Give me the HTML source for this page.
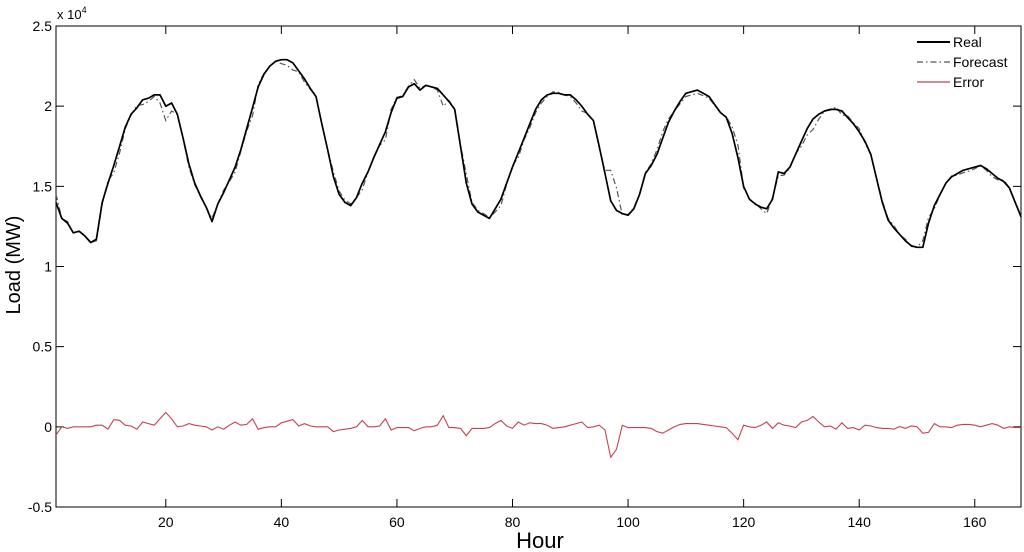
<!DOCTYPE html>
<html><head><meta charset="utf-8"><style>
body{margin:0;background:#fff;}
svg{display:block;font-family:"Liberation Sans",Arial,sans-serif;}
</style></head><body>
<svg id="chart" width="1024" height="552" viewBox="0 0 1024 552" xmlns="http://www.w3.org/2000/svg">
<rect x="0" y="0" width="1024" height="552" fill="#fff"/>
<g id="axes"></g>
<g id="series"></g>
<text x="57" y="19" font-size="13">x 10<tspan dy="-6" font-size="9">4</tspan></text>
<text transform="translate(20,265) rotate(-90)" text-anchor="middle" font-size="20">Load (MW)</text>
<text x="540" y="548" text-anchor="middle" font-size="22">Hour</text>
<g font-size="14">
<line x1="917" y1="42" x2="950" y2="42" stroke="#000" stroke-width="2"/>
<text x="953" y="47">Real</text>
<line x1="917" y1="62" x2="950" y2="62" stroke="#555" stroke-width="1.2" stroke-dasharray="6,3,1.5,3"/>
<text x="953" y="67">Forecast</text>
<line x1="917" y1="82" x2="950" y2="82" stroke="#c8404f" stroke-width="1.2"/>
<text x="953" y="87">Error</text>
</g>
</svg>
<script>
const realValues=[1.40,1.30,1.27,1.21,1.22,1.19,1.15,1.17,1.40,1.52,1.63,1.75,1.87,1.95,1.99,2.04,2.05,2.07,2.07,2.00,2.02,1.95,1.80,1.64,1.52,1.44,1.37,1.28,1.39,1.46,1.54,1.62,1.73,1.86,1.99,2.12,2.20,2.25,2.28,2.29,2.29,2.27,2.22,2.17,2.11,2.06,1.89,1.73,1.56,1.45,1.40,1.38,1.43,1.52,1.59,1.68,1.76,1.84,1.96,2.05,2.06,2.12,2.14,2.10,2.13,2.12,2.11,2.07,2.03,1.98,1.75,1.52,1.39,1.34,1.32,1.30,1.36,1.42,1.52,1.62,1.71,1.80,1.89,1.98,2.04,2.07,2.08,2.08,2.07,2.07,2.04,2.00,1.95,1.91,1.75,1.58,1.41,1.35,1.33,1.32,1.36,1.45,1.58,1.63,1.70,1.80,1.90,1.97,2.03,2.08,2.09,2.10,2.08,2.06,2.01,1.96,1.93,1.83,1.68,1.50,1.42,1.39,1.37,1.36,1.42,1.59,1.58,1.62,1.70,1.78,1.86,1.92,1.95,1.97,1.98,1.98,1.97,1.93,1.89,1.84,1.78,1.70,1.55,1.40,1.29,1.24,1.20,1.16,1.13,1.12,1.12,1.27,1.38,1.45,1.52,1.56,1.58,1.60,1.61,1.62,1.63,1.61,1.58,1.55,1.53,1.49,1.40,1.31];
const errorValues=[-0.05,0,-0.01,0,0,0,0,0.01,0.01,-0.015,0.045,0.04,0.01,0.005,-0.015,0.03,0.02,0.01,0.05,0.09,0.05,0,0.005,0.02,0.01,0.005,0,-0.02,0,-0.015,0.01,0.03,0.01,0.015,0.05,-0.015,-0.005,0,0,0.025,0.035,0.045,0.005,0.02,0.005,0,0,0,-0.03,-0.02,-0.015,-0.01,0,0.04,0,0,0.005,0.05,-0.02,-0.005,-0.005,-0.005,-0.025,-0.01,0,0,0.01,0.07,-0.005,-0.005,-0.01,-0.055,-0.01,-0.01,-0.01,-0.005,0.02,0.04,0.005,-0.01,0.03,0.01,0.025,0.02,0.02,0.01,-0.01,-0.005,0,0.01,0.02,0.03,-0.005,0,0.01,-0.02,-0.19,-0.14,0.01,-0.005,-0.005,-0.005,-0.005,-0.01,-0.03,-0.04,-0.02,0,0.015,0.02,0.02,0.02,0.015,0.01,0.005,0,-0.005,-0.04,-0.08,0.01,0,-0.005,0.01,0.03,-0.01,0.025,0.01,0.005,-0.005,0.03,0.04,0.065,0.03,0,0.005,-0.015,0.025,-0.01,-0.005,-0.02,0.01,0.005,-0.005,-0.01,-0.01,-0.015,0.002,-0.01,0.005,0,-0.04,-0.035,0.02,0,0,-0.005,0.01,0.015,0.015,0.01,0,0.01,0.02,0.01,-0.01,0,-0.005,-0.005];
const xTicks=[20,40,60,80,100,120,140,160];
const yTicks=[-0.5,0,0.5,1,1.5,2,2.5];
const yTickLabels=["-0.5","0","0.5","1","1.5","2","2.5"];

const L=56,R=1021,T=26,B=507,xMin=1,xMax=168,yMin=-0.5,yMax=2.5;
const NS="http://www.w3.org/2000/svg";
function sx(h){return L+(h-xMin)/(xMax-xMin)*(R-L);}
function sy(v){return B-(v-yMin)/(yMax-yMin)*(B-T);}
function mk(tag,attrs,parent){const e=document.createElementNS(NS,tag);for(const k in attrs)e.setAttribute(k,attrs[k]);parent.appendChild(e);return e;}
const axes=document.getElementById('axes');
const frame=mk('rect',{x:L,y:T,width:R-L,height:B-T,fill:'none',stroke:'#000','stroke-width':1},axes);


xTicks.forEach(t=>{
  const x=sx(t);
  const tk=mk('path',{d:`M${x},${B}V${B-8}M${x},${T}V${T+8}`,stroke:'#000','stroke-width':1},axes);
  
  
  const lb=mk('text',{x:x,y:B+20,'text-anchor':'middle','font-size':14},axes);
  lb.textContent=t;
  
  
});
yTicks.forEach((t,i)=>{
  const y=sy(t);
  const tk=mk('path',{d:`M${L},${y}H${L+8}M${R},${y}H${R-8}`,stroke:'#000','stroke-width':1},axes);
  
  
  const lb=mk('text',{x:L-4,y:y+5,'text-anchor':'end','font-size':14},axes);
  lb.textContent=yTickLabels[i];
  
  
});
const series=document.getElementById('series');
function pathFrom(vals){return vals.map((v,i)=>(i?'L':'M')+sx(i+1).toFixed(1)+','+sy(v).toFixed(1)).join('');}
const forecastValues=realValues.map((v,i)=>v-errorValues[i]);
const fc=mk('path',{d:pathFrom(forecastValues),fill:'none',stroke:'#555','stroke-width':1.2,'stroke-dasharray':'6,3,1.5,3'},series);


const rl=mk('path',{d:pathFrom(realValues),fill:'none',stroke:'#000','stroke-width':1.7,'stroke-linejoin':'round'},series);


const er=mk('path',{d:pathFrom(errorValues),fill:'none',stroke:'#c8404f','stroke-width':1.1},series);


</script>
</body></html>
